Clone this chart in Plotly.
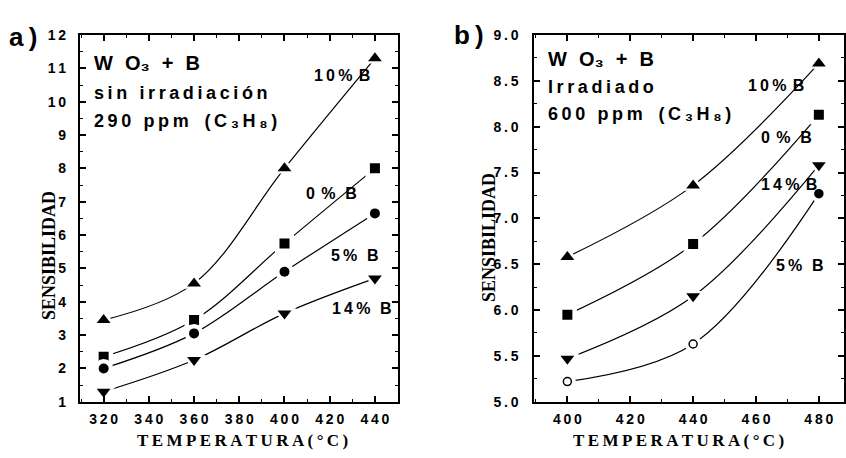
import plotly.graph_objects as go

# ---------------- data ----------------
temp_a = [320, 360, 400, 440]
a_10 = [3.45, 4.55, 8.0, 11.3]
a_0 = [2.35, 3.45, 5.75, 8.0]
a_5 = [2.0, 3.05, 4.9, 6.65]
a_14 = [1.3, 2.25, 3.65, 4.7]

temp_b = [400, 440, 480]
b_10 = [6.58, 7.36, 8.69]
b_0 = [5.95, 6.72, 8.13]
b_14 = [5.47, 6.15, 7.58]
b_5 = [5.22, 5.63, 7.27]

xticks_a = [320, 340, 360, 380, 400, 420, 440]
yticks_a = [1, 2, 3, 4, 5, 6, 7, 8, 9, 10, 11, 12]
xticks_b = [400, 420, 440, 460, 480]
yticks_b = [5.0, 5.5, 6.0, 6.5, 7.0, 7.5, 8.0, 8.5, 9.0]

W, H = 846, 458
TS = "\u2009"


def px(x, y):
    return x / W, 1 - y / H


def spaced(s):
    return TS.join(s)


fig = go.Figure()


def add_series(x, y, xa, ya, symbol, size, open_marker=False):
    fig.add_trace(go.Scatter(x=x, y=y, mode="lines", xaxis=xa, yaxis=ya,
                             line=dict(color="black", width=1.2, shape="spline", smoothing=1.0),
                             showlegend=False, hoverinfo="skip"))
    fig.add_trace(go.Scatter(x=x, y=y, mode="markers", xaxis=xa, yaxis=ya,
                             marker=dict(symbol=symbol if not open_marker else "circle",
                                         size=size + 9, color="white", line=dict(width=0)),
                             showlegend=False, hoverinfo="skip"))
    fig.add_trace(go.Scatter(x=x, y=y, mode="markers", xaxis=xa, yaxis=ya,
                             marker=dict(symbol=symbol, size=size, color="black",
                                         line=dict(color="black", width=1.5 if open_marker else 0)),
                             showlegend=False))


add_series(temp_a, a_10, "x", "y", "triangle-up", 12)
add_series(temp_a, a_0, "x", "y", "square", 10)
add_series(temp_a, a_5, "x", "y", "circle", 10)
add_series(temp_a, a_14, "x", "y", "triangle-down", 12)

add_series(temp_b, b_10, "x2", "y2", "triangle-up", 12)
add_series(temp_b, b_0, "x2", "y2", "square", 10)
add_series(temp_b, b_14, "x2", "y2", "triangle-down", 12)
add_series(temp_b, b_5, "x2", "y2", ["circle-open", "circle-open", "circle"], 8, open_marker=True)

tickfont = dict(family="Liberation Sans, Arial", size=14, color="black", weight="bold")

common_axis = dict(showgrid=False, zeroline=False, showline=True, linecolor="black", linewidth=2,
                   mirror="allticks", ticks="inside", ticklen=6, tickwidth=1.5, tickcolor="black",
                   tickfont=tickfont, tickmode="array")

yd = [1 - 408 / H, 1 - 28 / H]
fig.update_layout(
    width=W, height=H, margin=dict(l=0, r=0, t=0, b=0),
    paper_bgcolor="white", plot_bgcolor="white", showlegend=False,
    xaxis=dict(domain=[80 / W, 398 / W], range=[309.5, 450], anchor="y",
               tickvals=xticks_a, ticktext=[spaced(str(v)) for v in xticks_a],
               minor=dict(ticks="inside", ticklen=3, tickwidth=1.2, dtick=10, tick0=310, tickcolor="black"),
               ticklabelstandoff=3, **common_axis),
    yaxis=dict(domain=yd, range=[1, 12], anchor="x",
               tickvals=yticks_a, ticktext=[spaced(str(v)) for v in yticks_a],
               minor=dict(ticks="inside", ticklen=3, tickwidth=1.2, dtick=0.5, tick0=1, tickcolor="black"),
               ticklabelstandoff=9, **common_axis),
    xaxis2=dict(domain=[535 / W, 845 / W], range=[389.5, 488], anchor="y2",
                tickvals=xticks_b, ticktext=[spaced(str(v)) for v in xticks_b],
                minor=dict(ticks="inside", ticklen=3, tickwidth=1.2, dtick=10, tick0=390, tickcolor="black"),
                ticklabelstandoff=3, **common_axis),
    yaxis2=dict(domain=yd, range=[5, 9], anchor="x2",
                tickvals=yticks_b, ticktext=[spaced(f"{v:.1f}") for v in yticks_b],
                minor=dict(ticks="inside", ticklen=3, tickwidth=1.2, dtick=0.25, tick0=5, tickcolor="black"),
                ticklabelstandoff=11, **common_axis),
)

ann = []


def add_text(text, x, y, size, xanchor="left", family="Liberation Sans, Arial", weight="normal", angle=0):
    xx, yy = px(x, y)
    ann.append(dict(text=text, x=xx, y=yy, xref="paper", yref="paper", xanchor=xanchor,
                    yanchor="middle", showarrow=False, textangle=angle, borderpad=0,
                    font=dict(family=family, size=size, color="black", weight=weight)))


# panel letters
add_text("a" + TS + ")", 8, 30, 26, weight="bold")
add_text("b" + TS + ")", 454, 28, 26, weight="bold")

G = TS * 3
wo3 = f"W{G}O\u2083{G}+{G}B"
c3h8 = "(" + TS + "C" + TS + "\u2083" + TS + "H" + TS + "\u2088" + TS + ")"

# panel a block
add_text(wo3, 93, 57, 20, weight="bold")
add_text(spaced("sin irradiación"), 93, 88, 18, weight="bold")
add_text(spaced("290 ppm ") + TS * 2 + c3h8, 93, 117, 18, weight="bold")
add_text(spaced("10%") + TS + TS + "B", 313, 70, 16, weight="bold")
add_text("0" + TS + TS + spaced("%") + TS + TS + TS + "B", 305, 192, 16, weight="bold")
add_text(spaced("5%") + TS + TS + TS + "B", 330, 256, 16, weight="bold")
add_text(spaced("14%") + TS + TS + TS + "B", 331, 311, 16, weight="bold")

# panel b block
add_text(wo3, 548, 53, 20, weight="bold")
add_text(spaced("Irradiado"), 548, 82, 18, weight="bold")
add_text(spaced("600 ppm ") + TS * 2 + c3h8, 548, 110, 18, weight="bold")
add_text(spaced("10%") + TS + TS + "B", 748, 80, 16, weight="bold")
add_text("0" + TS + TS + "%" + TS + TS + TS + "B", 761, 134, 16, weight="bold")
add_text(spaced("14%") + TS + TS + "B", 761, 183, 16, weight="bold")
add_text(spaced("5%") + TS + TS + TS + "B", 776, 267, 16, weight="bold")

# axis titles
serif = "Liberation Serif, Times New Roman"
add_text(spaced("TEMPERATURA(°C)"), 243, 448, 17, xanchor="center", family=serif, weight="bold")
add_text(spaced("TEMPERATURA(°C)"), 679, 448, 17, xanchor="center", family=serif, weight="bold")
add_text("SENSIBILIDAD", 49, 256, 18, xanchor="center", family=serif, weight="bold", angle=-90)
add_text("SENSIBILIDAD", 489, 238, 18, xanchor="center", family=serif, weight="bold", angle=-90)

fig.update_layout(annotations=ann)
fig.write_html("out.html", config={"displayModeBar": False},
               post_script="document.body.style.margin='0px';")
